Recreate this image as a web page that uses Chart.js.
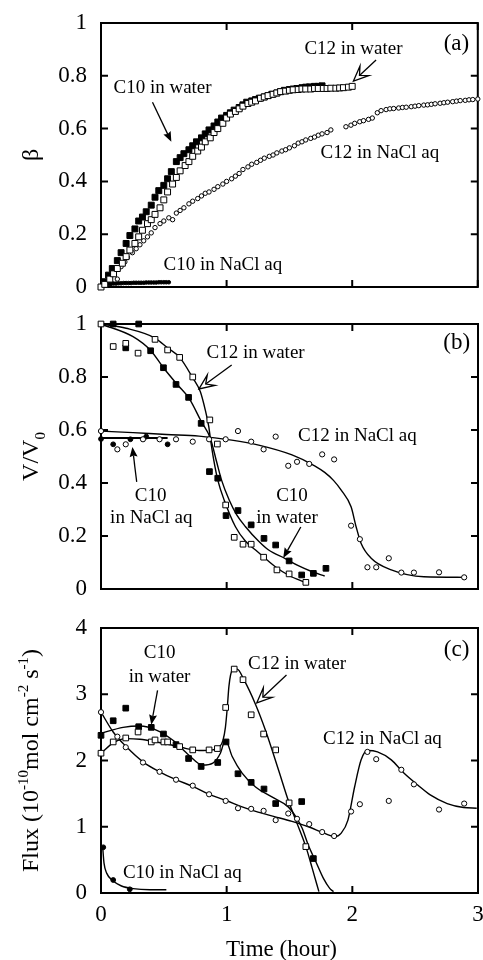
<!DOCTYPE html>
<html>
<head>
<meta charset="utf-8">
<script src="https://cdn.jsdelivr.net/npm/chart.js@4.4.1/dist/chart.umd.min.js"></script>
<style>
  body { margin: 0; background: #fff; }
  #wrap { position: relative; width: 483px; height: 960px; overflow: hidden; }
  canvas { position: absolute; left: 0; }
</style>
</head>
<body>
<div id="wrap">
  <canvas id="panelA" width="483" height="300" style="top:0"></canvas>
  <canvas id="panelB" width="483" height="300" style="top:300px"></canvas>
  <canvas id="panelC" width="483" height="360" style="top:600px"></canvas>
</div>
<script>
// ---- panel (a): beta vs time ----
const aC10WaterT = [0.03,0.06,0.09,0.13,0.16, 0.20,0.23,0.27,0.30,0.33, 0.36,0.40,0.43,0.46,0.50, 0.53,0.56,0.60,0.63,0.66,
  0.70,0.73,0.76,0.80,0.83, 0.86,0.90,0.93,0.96,1.00, 1.03,1.06,1.10,1.13,1.16, 1.20,1.23,1.26,1.30,1.33,
  1.36,1.40,1.43,1.46,1.50, 1.53,1.56,1.60,1.63,1.66, 1.70,1.73,1.76];
const aC10WaterB = [0.02,0.045,0.07,0.10,0.13, 0.165,0.195,0.22,0.25,0.265, 0.285,0.31,0.34,0.365,0.385, 0.41,0.437,0.475,0.49,0.505,
  0.52,0.535,0.55,0.565,0.58, 0.595,0.61,0.625,0.64,0.65, 0.66,0.67,0.68,0.69,0.70, 0.705,0.71,0.715,0.72,0.725,
  0.73,0.735,0.74,0.745,0.748, 0.75,0.752,0.755,0.757,0.758, 0.76,0.76,0.762];
const aC12WaterT = [0,0.03,0.07,0.10,0.13, 0.17,0.20,0.23,0.27,0.30, 0.33,0.37,0.40,0.43,0.47, 0.50,0.53,0.57,0.60,0.63,
  0.67,0.70,0.73,0.77,0.80, 0.83,0.87,0.90,0.93,0.97, 1.00,1.03,1.07,1.10,1.13, 1.17,1.20,1.23,1.27,1.30,
  1.33,1.37,1.40,1.43,1.47, 1.50,1.53,1.57,1.60,1.63, 1.67,1.70,1.73,1.77,1.80, 1.83,1.87,1.90,1.93,1.97, 2.00];
const aC12WaterB = [0,0.01,0.03,0.05,0.07, 0.09,0.115,0.14,0.165,0.19, 0.215,0.24,0.255,0.275,0.30, 0.33,0.36,0.39,0.415,0.44,
  0.46,0.475,0.495,0.515,0.53, 0.55,0.565,0.585,0.60,0.62, 0.64,0.655,0.665,0.675,0.685, 0.695,0.70,0.705,0.715,0.72,
  0.725,0.73,0.735,0.74,0.742, 0.745,0.747,0.748,0.75,0.75, 0.75,0.752,0.752,0.752,0.752, 0.753,0.753,0.754,0.755,0.757, 0.76];
const aC12SaltT = [0,0.02,0.04,0.07,0.10, 0.13,0.16,0.19,0.21,0.25, 0.28,0.31,0.34,0.37,0.40, 0.43,0.47,0.50,0.54,0.57,
  0.60,0.63,0.66,0.70,0.73, 0.77,0.80,0.83,0.86,0.90, 0.93,0.97,1.00,1.04,1.07, 1.10,1.13,1.17,1.20,1.24,
  1.27,1.30,1.34,1.37,1.40, 1.44,1.47,1.50,1.54,1.57, 1.60,1.63,1.67,1.70,1.73, 1.76,1.80,1.83,1.95,1.99,
  2.02,2.06,2.09,2.13,2.16, 2.20,2.23,2.27,2.30,2.33, 2.37,2.40,2.43,2.47,2.50, 2.53,2.57,2.60,2.63,2.66,
  2.70,2.73,2.76,2.80,2.83, 2.86,2.90,2.93,2.96,3.00];
const aC12SaltB = [0,0.008,0.018,0.033,0.05, 0.03,0.077,0.095,0.112,0.13, 0.145,0.16,0.175,0.19,0.205, 0.225,0.24,0.25,0.262,0.255,
  0.28,0.29,0.30,0.315,0.325, 0.335,0.345,0.355,0.36,0.37, 0.38,0.39,0.40,0.41,0.42, 0.43,0.445,0.455,0.465,0.472,
  0.48,0.488,0.495,0.50,0.508, 0.515,0.52,0.527,0.535,0.545, 0.55,0.557,0.563,0.568,0.575, 0.58,0.585,0.595,0.607,0.613,
  0.62,0.626,0.63,0.635,0.64, 0.66,0.668,0.672,0.675,0.676, 0.678,0.68,0.681,0.683,0.685, 0.687,0.689,0.69,0.692,0.694,
  0.696,0.698,0.70,0.702,0.704, 0.706,0.707,0.709,0.71,0.712];
const aC10SaltT = [0,0.02,0.04,0.06,0.08,0.10,0.12,0.14,0.16,0.18,0.20,0.22,0.24,0.26,0.28,0.30,0.32,0.34,0.36,0.38,0.40,0.42,0.44,0.46,0.48,0.50,0.52,0.54];
const aC10SaltB = [0,0.004,0.008,0.011,0.012,0.013,0.013,0.014,0.014,0.015,0.015,0.015,0.015,0.016,0.016,0.016,0.016,0.016,0.017,0.017,0.017,0.017,0.017,0.018,0.018,0.018,0.018,0.018];

// ---- panel (b): V/V0 vs time ----
const bC12WaterT = [0,0.097,0.197,0.295,0.43,0.53,0.626,0.73,0.866,0.926,0.992,1.06,1.13,1.195,1.294,1.40,1.497,1.63];
const bC12WaterV = [1.0,0.915,0.927,0.89,0.942,0.902,0.874,0.80,0.638,0.547,0.317,0.195,0.169,0.169,0.12,0.072,0.057,0.025];
const bC10WaterT = [0.097,0.197,0.30,0.395,0.497,0.597,0.697,0.797,0.863,0.929,0.995,1.09,1.195,1.297,1.39,1.497,1.597,1.69,1.79];
const bC10WaterV = [1.0,0.91,1.0,0.899,0.835,0.772,0.723,0.625,0.443,0.418,0.277,0.296,0.242,0.191,0.166,0.106,0.053,0.059,0.078];
const bC12SaltT = [0,0.13,0.197,0.334,0.466,0.597,0.73,0.86,0.992,1.09,1.195,1.294,1.39,1.49,1.56,1.657,1.76,1.855,1.99,2.06,2.12,2.19,2.29,2.39,2.49,2.69,2.89];
const bC12SaltV = [0.596,0.527,0.546,0.565,0.565,0.565,0.556,0.565,0.565,0.596,0.556,0.527,0.575,0.465,0.48,0.472,0.508,0.489,0.239,0.188,0.082,0.082,0.116,0.062,0.062,0.063,0.044];
const bC10SaltT = [0,0.097,0.234,0.36,0.53];
const bC10SaltV = [0.566,0.546,0.565,0.575,0.546];
// fitted curves (b)
const bFitC12WaterT = [0,0.2,0.43,0.53,0.626,0.73,0.79,0.83,0.858,0.87,0.897,0.93,0.98,1.07,1.15,1.23,1.387,1.50,1.62];
const bFitC12WaterV = [1.0,0.984,0.947,0.91,0.874,0.797,0.745,0.675,0.612,0.569,0.487,0.41,0.336,0.235,0.18,0.147,0.084,0.05,0.026];
const bFitC10WaterT = [0,0.255,0.395,0.50,0.61,0.70,0.80,0.87,0.92,0.96,1.02,1.08,1.15,1.255,1.334,1.466,1.57,1.676,1.78];
const bFitC10WaterV = [1.0,0.952,0.90,0.833,0.77,0.72,0.63,0.569,0.48,0.41,0.336,0.28,0.235,0.18,0.147,0.115,0.088,0.066,0.049];
const bFitC12SaltT = [0,0.255,0.52,0.78,1.04,1.255,1.52,1.70,1.78,1.85,1.91,1.99,2.03,2.07,2.15,2.31,2.57,2.89];
const bFitC12SaltV = [0.596,0.59,0.583,0.577,0.562,0.543,0.506,0.465,0.44,0.41,0.374,0.31,0.235,0.172,0.116,0.072,0.046,0.044];
const bFitC10SaltT = [0,0.53];
const bFitC10SaltV = [0.57,0.57];

// ---- panel (c): flux vs time ----
const cC12WaterT = [0,0.097,0.197,0.295,0.40,0.43,0.50,0.53,0.626,0.73,0.86,0.926,0.992,1.06,1.13,1.195,1.294,1.39,1.497,1.63];
const cC12WaterV = [2.11,2.28,2.34,2.43,2.28,2.31,2.28,2.28,2.21,2.16,2.16,2.18,2.80,3.38,3.22,2.69,2.40,2.16,1.36,0.70];
const cC10WaterT = [0,0.097,0.197,0.30,0.40,0.497,0.597,0.697,0.797,0.929,0.995,1.09,1.195,1.297,1.39,1.597,1.69];
const cC10WaterV = [2.38,2.60,2.79,2.51,2.50,2.40,2.24,2.03,1.91,1.97,2.28,1.80,1.67,1.57,1.35,1.38,0.52];
const cC12SaltT = [0,0.13,0.197,0.334,0.466,0.597,0.73,0.86,0.992,1.09,1.195,1.294,1.39,1.49,1.56,1.657,1.76,1.855,1.99,2.06,2.12,2.19,2.29,2.39,2.49,2.69,2.89];
const cC12SaltV = [2.73,2.36,2.20,1.97,1.83,1.71,1.62,1.49,1.39,1.28,1.27,1.24,1.10,1.20,1.12,1.04,0.92,0.86,1.23,1.34,2.13,2.02,1.39,1.86,1.64,1.26,1.35];
const cC10SaltT = [0.018,0.097,0.229];
const cC10SaltV = [0.69,0.196,0.056];
// fitted curves (c)
const cFitC12WaterT = [0,0.1,0.2,0.31,0.44,0.57,0.68,0.78,0.89,0.94,0.97,0.99,1.005,1.018,1.044,1.084,1.137,1.229,1.31,1.414,1.49,1.55,1.63,1.68,1.734];
const cFitC12WaterV = [2.11,2.27,2.33,2.32,2.28,2.23,2.18,2.15,2.16,2.2,2.3,2.5,2.8,3.12,3.36,3.38,3.22,2.85,2.45,1.85,1.40,1.10,0.70,0.38,0.02];
const cFitC10WaterT = [0,0.176,0.31,0.44,0.57,0.70,0.81,0.89,0.95,0.99,1.044,1.123,1.23,1.36,1.49,1.557,1.60,1.65,1.715,1.77,1.82,1.85];
const cFitC10WaterV = [2.41,2.50,2.52,2.46,2.31,2.08,1.93,1.96,2.11,2.31,2.06,1.81,1.60,1.45,1.30,1.13,0.98,0.72,0.45,0.22,0.07,0.02];
const cFitC12SaltT = [0,0.097,0.2,0.334,0.466,0.597,0.73,0.86,0.992,1.123,1.25,1.387,1.52,1.65,1.78,1.86,1.91,1.965,2.018,2.07,2.12,2.20,2.31,2.41,2.52,2.62,2.755,2.886,2.99];
const cFitC12SaltV = [2.73,2.43,2.21,1.98,1.83,1.71,1.61,1.49,1.40,1.30,1.22,1.15,1.08,1.0,0.90,0.85,0.90,1.10,1.60,2.01,2.15,2.13,2.01,1.81,1.63,1.48,1.35,1.29,1.28];
const cFitC10SaltT = [0.013,0.024,0.045,0.097,0.163,0.255,0.39,0.52];
const cFitC10SaltV = [0.70,0.45,0.30,0.18,0.106,0.066,0.05,0.05];

// annotations, placed in data units
const notesA = [
  { text: '(a)', t: 2.83, v: 0.922, size: 23 },
  { text: 'C12 in water', t: 2.01, v: 0.90 },
  { text: 'C10 in water', t: 0.49, v: 0.754 },
  { text: 'C12 in NaCl aq', t: 2.22, v: 0.508 },
  { text: 'C10 in NaCl aq', t: 0.97, v: 0.083 }
];
const arrowsA = [
  { from: [2.19, 0.86], to: [2.01, 0.78], hollow: true },
  { from: [0.41, 0.70], to: [0.56, 0.55] }
];
const notesB = [
  { text: '(b)', t: 2.83, v: 0.928, size: 23 },
  { text: 'C12 in water', t: 1.23, v: 0.89 },
  { text: 'C12 in NaCl aq', t: 2.04, v: 0.577 },
  { text: 'C10', t: 0.395, v: 0.35 },
  { text: 'in NaCl aq', t: 0.40, v: 0.268 },
  { text: 'C10', t: 1.52, v: 0.35 },
  { text: 'in water', t: 1.48, v: 0.268 }
];
const arrowsB = [
  { from: [1.04, 0.845], to: [0.78, 0.755], hollow: true },
  { from: [0.284, 0.404], to: [0.25, 0.536] },
  { from: [1.59, 0.234], to: [1.45, 0.117] }
];
const notesC = [
  { text: '(c)', t: 2.83, v: 3.67, size: 23 },
  { text: 'C10', t: 0.466, v: 3.62 },
  { text: 'in water', t: 0.466, v: 3.26 },
  { text: 'C12 in water', t: 1.56, v: 3.46 },
  { text: 'C12 in NaCl aq', t: 2.24, v: 2.32 },
  { text: 'C10 in NaCl aq', t: 0.647, v: 0.30 }
];
const arrowsC = [
  { from: [0.45, 3.06], to: [0.40, 2.54] },
  { from: [1.476, 3.29], to: [1.24, 2.87], hollow: true }
];

const FONT = 'Liberation Serif';
Chart.defaults.color = '#000';
Chart.defaults.font.family = FONT;

function pts(ts, vs) {
  return ts.map((t, i) => ({ x: t, y: vs[i] }));
}

function markers(ts, vs, style, filled, r) {
  return {
    data: pts(ts, vs), showLine: false, pointStyle: style,
    pointRadius: r, pointHoverRadius: r, pointBorderWidth: 1,
    pointBackgroundColor: filled ? '#000' : '#fff', pointBorderColor: '#000',
    clip: false
  };
}

function fit(ts, vs, w) {
  return {
    data: pts(ts, vs), showLine: true, borderColor: '#000', borderWidth: w || 1.4,
    pointRadius: 0, cubicInterpolationMode: 'monotone', fill: false, clip: false
  };
}

function arrow(ctx, x0, y0, x1, y1, hollow) {
  const ang = Math.atan2(y1 - y0, x1 - x0);
  const c = Math.cos(ang), s = Math.sin(ang);
  const len = hollow ? 15 : 10, half = hollow ? 6.5 : 4;
  const notch = hollow ? 0.55 : 0.85;
  const bx = x1 - len * c, by = y1 - len * s;
  const nx = x1 - len * notch * c, ny = y1 - len * notch * s;
  ctx.lineWidth = 1.3;
  ctx.beginPath();
  ctx.moveTo(x0, y0);
  ctx.lineTo(nx, ny);
  ctx.stroke();
  ctx.beginPath();
  ctx.moveTo(x1, y1);
  ctx.lineTo(bx - s * half, by + c * half);
  ctx.lineTo(nx, ny);
  ctx.lineTo(bx + s * half, by - c * half);
  ctx.closePath();
  if (hollow) {
    ctx.fillStyle = '#fff';
    ctx.fill();
    ctx.stroke();
  } else {
    ctx.fillStyle = '#000';
    ctx.fill();
  }
}

// rotated axis title made of normal / sup / sub pieces
function richTitle(ctx, parts, cx, cy, size) {
  ctx.save();
  ctx.translate(cx, cy);
  ctx.rotate(-Math.PI / 2);
  let total = 0;
  const fonts = parts.map(p => (p.sup || p.sub) ? Math.round(size * 0.64) : size);
  parts.forEach((p, i) => { ctx.font = fonts[i] + 'px ' + FONT; total += ctx.measureText(p.t).width; });
  let x = -total / 2;
  ctx.textAlign = 'left';
  ctx.textBaseline = 'alphabetic';
  ctx.fillStyle = '#000';
  parts.forEach((p, i) => {
    ctx.font = fonts[i] + 'px ' + FONT;
    let y = size * 0.33;
    if (p.sup) y -= size * 0.42;
    if (p.sub) y += size * 0.28;
    ctx.fillText(p.t, x, y);
    x += ctx.measureText(p.t).width;
  });
  ctx.restore();
}

const deco = {
  id: 'deco',
  beforeDatasetsDraw(chart) {
    const { ctx, chartArea: a, scales: { x, y } } = chart;
    ctx.save();
    ctx.strokeStyle = '#000';
    ctx.lineWidth = 2;
    ctx.strokeRect(a.left, a.top, a.right - a.left, a.bottom - a.top);
    // inward ticks on all four sides
    const len = 7;
    ctx.beginPath();
    y.ticks.forEach(tk => {
      const py = y.getPixelForValue(tk.value);
      ctx.moveTo(a.left, py); ctx.lineTo(a.left + len, py);
      ctx.moveTo(a.right, py); ctx.lineTo(a.right - len, py);
    });
    x.ticks.forEach(tk => {
      const px = x.getPixelForValue(tk.value);
      ctx.moveTo(px, a.top); ctx.lineTo(px, a.top + len);
      ctx.moveTo(px, a.bottom); ctx.lineTo(px, a.bottom - len);
    });
    ctx.stroke();
    ctx.restore();
  },
  afterDraw(chart, args, opts) {
    const { ctx, chartArea: a, scales: { x, y } } = chart;
    ctx.save();
    ctx.fillStyle = '#000';
    ctx.strokeStyle = '#000';
    ctx.textAlign = 'center';
    ctx.textBaseline = 'middle';
    opts.notes.forEach(n => {
      ctx.font = (n.size || 19) + 'px ' + FONT;
      ctx.fillText(n.text, x.getPixelForValue(n.t), y.getPixelForValue(n.v));
    });
    opts.arrows.forEach(r => {
      arrow(ctx, x.getPixelForValue(r.from[0]), y.getPixelForValue(r.from[1]),
        x.getPixelForValue(r.to[0]), y.getPixelForValue(r.to[1]), r.hollow);
    });
    ctx.restore();
    richTitle(ctx, opts.title, a.left - 71, (a.top + a.bottom) / 2, 24);
    if (opts.xTitle) {
      ctx.save();
      ctx.font = '23px ' + FONT;
      ctx.textAlign = 'center';
      ctx.textBaseline = 'middle';
      ctx.fillStyle = '#000';
      ctx.fillText(opts.xTitle, (a.left + a.right) / 2 - 8, a.bottom + 57);
      ctx.restore();
    }
  }
};

// ticks read "0", "0.2", ... "1" as in the paper
function tickText(v) {
  return String(Math.round(v * 10) / 10);
}

function makePanel(id, datasets, o) {
  return new Chart(document.getElementById(id), {
    type: 'scatter',
    data: { datasets: datasets },
    options: {
      responsive: false,
      animation: false,
      events: [],
      layout: { padding: { top: o.top, right: 2, left: 0, bottom: 0 } },
      plugins: {
        legend: { display: false },
        tooltip: { enabled: false },
        deco: o.deco
      },
      scales: {
        x: {
          type: 'linear', min: 0, max: 3,
          ticks: { stepSize: 1, display: o.showX, padding: 8, font: { size: 23 }, callback: tickText },
          grid: { display: false, drawTicks: false },
          border: { display: false },
          afterFit: s => { s.height = o.xh; s.paddingLeft = 0; s.paddingRight = 0; }
        },
        y: {
          min: 0, max: o.ymax,
          ticks: { stepSize: o.step, padding: 14, autoSkip: false, font: { size: 23 }, callback: tickText },
          grid: { display: false, drawTicks: false },
          border: { display: false },
          afterFit: s => { s.width = 101; s.paddingTop = 0; s.paddingBottom = 0; }
        }
      }
    },
    plugins: [deco]
  });
}

// (a)
makePanel('panelA', [
  markers(aC12WaterT, aC12WaterB, 'rect', false, 4.2),
  markers(aC10WaterT, aC10WaterB, 'rect', true, 4.2),
  markers(aC12SaltT, aC12SaltB, 'circle', false, 2.2),
  markers(aC10SaltT, aC10SaltB, 'circle', true, 1.8)
], { top: 23, xh: 13, ymax: 1, step: 0.2, showX: false,
  deco: { notes: notesA, arrows: arrowsA, title: [{ t: 'β' }] } });

// (b)
makePanel('panelB', [
  markers(bC12WaterT, bC12WaterV, 'rect', false, 4),
  markers(bC10WaterT, bC10WaterV, 'rect', true, 4),
  markers(bC12SaltT, bC12SaltV, 'circle', false, 2.6),
  markers(bC10SaltT, bC10SaltV, 'circle', true, 2.4),
  fit(bFitC12WaterT, bFitC12WaterV),
  fit(bFitC10WaterT, bFitC10WaterV),
  fit(bFitC12SaltT, bFitC12SaltV),
  fit(bFitC10SaltT, bFitC10SaltV, 2)
], { top: 24, xh: 11, ymax: 1, step: 0.2, showX: false,
  deco: { notes: notesB, arrows: arrowsB, title: [{ t: 'V/V' }, { t: '0', sub: true }] } });

// (c)
makePanel('panelC', [
  markers(cC12WaterT, cC12WaterV, 'rect', false, 4),
  markers(cC10WaterT, cC10WaterV, 'rect', true, 4),
  markers(cC12SaltT, cC12SaltV, 'circle', false, 2.6),
  markers(cC10SaltT, cC10SaltV, 'circle', true, 2.4),
  fit(cFitC12WaterT, cFitC12WaterV),
  fit(cFitC10WaterT, cFitC10WaterV),
  fit(cFitC12SaltT, cFitC12SaltV),
  fit(cFitC10SaltT, cFitC10SaltV)
], { top: 28, xh: 67, ymax: 4, step: 1, showX: true,
  deco: { notes: notesC, arrows: arrowsC, xTitle: 'Time (hour)',
    title: [{ t: 'Flux (10' }, { t: '-10', sup: true }, { t: 'mol cm' }, { t: '-2', sup: true }, { t: ' s' }, { t: '-1', sup: true }, { t: ')' }] } });
</script>
</body>
</html>
